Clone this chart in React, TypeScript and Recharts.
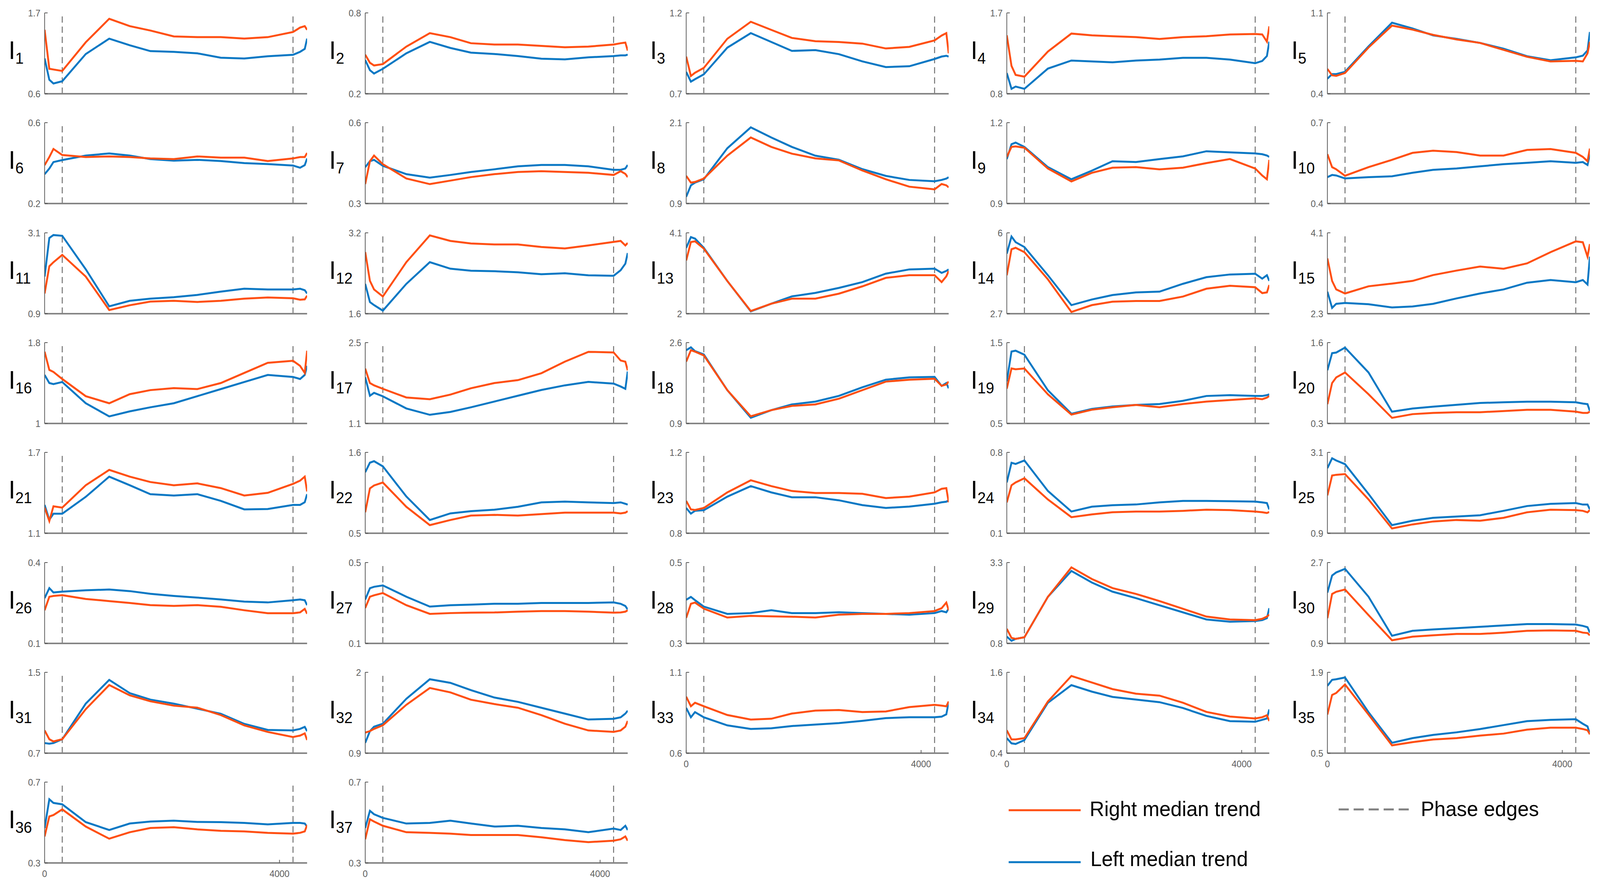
import { useEffect, useState } from 'react'
import { Line, LineChart, ReferenceLine, XAxis, YAxis } from 'recharts'

const SAMPLE_X = [0, 80, 150, 300, 700, 1100, 1450, 1800, 2200, 2600, 3000, 3400, 3800, 4230, 4350, 4430, 4470]
const PHASE_EDGES = [300, 4230]
const X_TICKS = [0, 4000]
const X_MAX = 4470

const Y_MIN = [0.6, 0.2, 0.7, 0.8, 0.4, 0.2, 0.3, 0.9, 0.9, 0.4, 0.9, 1.6, 2, 2.7, 2.3, 1, 1.1, 0.9, 0.5, 0.3, 1.1, 0.5, 0.8, 0.1, 0.9, 0.1, 0.1, 0.3, 0.8, 0.9, 0.7, 0.9, 0.6, 0.4, 0.5, 0.3, 0.3]
const Y_MAX = [1.7, 0.8, 1.2, 1.7, 1.1, 0.6, 0.6, 2.1, 1.2, 0.7, 3.1, 3.2, 4.1, 6, 4.1, 1.8, 2.5, 2.6, 1.5, 1.6, 1.7, 1.6, 1.2, 0.8, 3.1, 0.4, 0.5, 0.5, 3.3, 2.7, 1.5, 2, 1.1, 1.6, 1.9, 0.7, 0.7]

// panels that carry x tick labels
const LABELLED = [33, 34, 35, 36, 37]

const R1 = [1.47, 0.94, 0.93, 0.91, 1.3, 1.62, 1.52, 1.46, 1.38, 1.37, 1.37, 1.35, 1.37, 1.44, 1.5, 1.52, 1.47]
const L1 = [1.08, 0.79, 0.74, 0.77, 1.14, 1.35, 1.26, 1.18, 1.17, 1.15, 1.09, 1.08, 1.11, 1.13, 1.17, 1.21, 1.35]
const R2 = [0.49, 0.43, 0.41, 0.42, 0.55, 0.65, 0.62, 0.575, 0.565, 0.565, 0.555, 0.545, 0.55, 0.565, 0.575, 0.58, 0.52]
const L2 = [0.45, 0.375, 0.35, 0.385, 0.5, 0.585, 0.54, 0.505, 0.495, 0.48, 0.46, 0.455, 0.47, 0.48, 0.485, 0.485, 0.49]
const R3 = [0.93, 0.81, 0.83, 0.86, 1.04, 1.145, 1.095, 1.045, 1.025, 1.02, 1.01, 0.98, 0.99, 1.03, 1.06, 1.075, 0.95]
const L3 = [0.835, 0.775, 0.79, 0.82, 0.985, 1.075, 1.02, 0.965, 0.97, 0.945, 0.9, 0.865, 0.87, 0.915, 0.93, 0.935, 0.93]
const R4 = [1.45, 1.11, 1.01, 0.99, 1.27, 1.47, 1.45, 1.44, 1.43, 1.41, 1.43, 1.44, 1.46, 1.465, 1.46, 1.38, 1.55]
const L4 = [1.03, 0.855, 0.88, 0.855, 1.08, 1.17, 1.16, 1.15, 1.17, 1.18, 1.2, 1.2, 1.18, 1.14, 1.165, 1.22, 1.38]
const R5 = [0.615, 0.56, 0.555, 0.58, 0.8, 0.99, 0.955, 0.91, 0.87, 0.84, 0.78, 0.72, 0.68, 0.685, 0.68, 0.75, 0.85]
const L5 = [0.53, 0.57, 0.57, 0.59, 0.81, 1.015, 0.965, 0.905, 0.875, 0.84, 0.79, 0.725, 0.69, 0.715, 0.73, 0.775, 0.935]
const R6 = [0.39, 0.43, 0.47, 0.44, 0.43, 0.433, 0.43, 0.423, 0.42, 0.433, 0.427, 0.427, 0.41, 0.423, 0.43, 0.43, 0.45]
const L6 = [0.345, 0.373, 0.405, 0.415, 0.437, 0.448, 0.437, 0.42, 0.412, 0.416, 0.41, 0.4, 0.395, 0.388, 0.377, 0.39, 0.423]
const R7 = [0.372, 0.457, 0.478, 0.446, 0.393, 0.372, 0.385, 0.398, 0.409, 0.417, 0.42, 0.417, 0.414, 0.406, 0.42, 0.41, 0.398]
const L7 = [0.435, 0.457, 0.462, 0.44, 0.409, 0.396, 0.406, 0.417, 0.427, 0.438, 0.443, 0.443, 0.438, 0.425, 0.425, 0.43, 0.443]
const R8 = [1.31, 1.21, 1.22, 1.27, 1.61, 1.88, 1.74, 1.64, 1.57, 1.54, 1.39, 1.26, 1.15, 1.11, 1.19, 1.17, 1.14]
const L8 = [1.0, 1.17, 1.21, 1.26, 1.72, 2.03, 1.88, 1.74, 1.61, 1.55, 1.41, 1.31, 1.25, 1.23, 1.25, 1.27, 1.29]
const R9 = [1.073, 1.11, 1.112, 1.107, 1.03, 0.982, 1.014, 1.033, 1.035, 1.027, 1.033, 1.05, 1.065, 1.03, 1.004, 0.99, 1.062]
const L9 = [1.065, 1.12, 1.126, 1.11, 1.035, 0.99, 1.022, 1.057, 1.054, 1.065, 1.075, 1.094, 1.09, 1.086, 1.083, 1.078, 1.073]
const R10 = [0.583, 0.535, 0.527, 0.503, 0.535, 0.562, 0.588, 0.596, 0.591, 0.578, 0.578, 0.599, 0.602, 0.588, 0.573, 0.557, 0.604]
const L10 = [0.498, 0.506, 0.504, 0.493, 0.498, 0.501, 0.514, 0.525, 0.53, 0.538, 0.546, 0.551, 0.557, 0.551, 0.554, 0.543, 0.583]
const R11 = [1.45, 2.19, 2.3, 2.5, 1.91, 1.0, 1.13, 1.23, 1.25, 1.22, 1.25, 1.31, 1.34, 1.32, 1.28, 1.29, 1.39]
const L11 = [1.91, 2.96, 3.04, 3.02, 2.11, 1.1, 1.25, 1.31, 1.35, 1.41, 1.5, 1.58, 1.56, 1.56, 1.58, 1.54, 1.45]
const R12 = [2.82, 2.25, 2.08, 1.94, 2.62, 3.15, 3.04, 2.99, 2.97, 2.97, 2.92, 2.89, 2.95, 3.02, 3.04, 2.95, 3.0]
const L12 = [2.19, 1.83, 1.77, 1.66, 2.19, 2.62, 2.49, 2.45, 2.44, 2.42, 2.38, 2.4, 2.36, 2.35, 2.46, 2.59, 2.8]
const R13 = [3.38, 3.86, 3.88, 3.69, 2.85, 2.07, 2.26, 2.39, 2.39, 2.52, 2.71, 2.93, 3.0, 3.0, 2.82, 2.97, 3.11]
const L13 = [3.71, 3.99, 3.95, 3.71, 2.85, 2.06, 2.26, 2.45, 2.54, 2.67, 2.82, 3.04, 3.15, 3.17, 3.06, 3.11, 3.15]
const R14 = [4.27, 5.33, 5.39, 5.21, 4.1, 2.77, 3.05, 3.19, 3.22, 3.22, 3.4, 3.72, 3.84, 3.78, 3.54, 3.57, 3.87]
const L14 = [5.15, 5.85, 5.62, 5.42, 4.27, 3.05, 3.28, 3.46, 3.57, 3.6, 3.92, 4.19, 4.3, 4.33, 4.13, 4.27, 4.04]
const R15 = [3.53, 3.03, 2.84, 2.75, 2.91, 2.97, 3.03, 3.16, 3.26, 3.35, 3.3, 3.42, 3.67, 3.91, 3.89, 3.57, 3.85]
const L15 = [2.79, 2.43, 2.52, 2.54, 2.51, 2.44, 2.46, 2.52, 2.64, 2.75, 2.84, 2.99, 3.05, 3.0, 3.05, 2.95, 3.57]
const R16 = [1.71, 1.53, 1.51, 1.44, 1.27, 1.2, 1.29, 1.33, 1.35, 1.34, 1.4, 1.5, 1.6, 1.62, 1.57, 1.5, 1.72]
const L16 = [1.48, 1.4, 1.39, 1.41, 1.2, 1.07, 1.12, 1.16, 1.2, 1.27, 1.34, 1.41, 1.48, 1.46, 1.44, 1.48, 1.57]
const R17 = [2.05, 1.8, 1.76, 1.7, 1.55, 1.52, 1.6, 1.71, 1.8, 1.85, 1.97, 2.17, 2.34, 2.33, 2.19, 2.17, 2.02]
const L17 = [1.9, 1.58, 1.63, 1.57, 1.36, 1.25, 1.3, 1.38, 1.48, 1.58, 1.68, 1.76, 1.82, 1.79, 1.74, 1.7, 2.0]
const R18 = [2.2, 2.44, 2.41, 2.33, 1.6, 1.05, 1.18, 1.27, 1.3, 1.42, 1.6, 1.78, 1.82, 1.84, 1.69, 1.72, 1.78]
const L18 = [2.44, 2.5, 2.42, 2.35, 1.6, 1.02, 1.18, 1.3, 1.36, 1.48, 1.66, 1.82, 1.87, 1.88, 1.69, 1.75, 1.64]
const R19 = [0.93, 1.18, 1.17, 1.18, 0.86, 0.61, 0.67, 0.7, 0.73, 0.7, 0.74, 0.77, 0.79, 0.81, 0.8, 0.82, 0.84]
const L19 = [1.02, 1.39, 1.4, 1.35, 0.91, 0.62, 0.68, 0.71, 0.73, 0.74, 0.78, 0.84, 0.85, 0.84, 0.84, 0.85, 0.86]
const R20 = [0.61, 0.95, 1.04, 1.12, 0.77, 0.39, 0.45, 0.47, 0.48, 0.48, 0.5, 0.52, 0.52, 0.49, 0.47, 0.47, 0.49]
const L20 = [1.155, 1.43, 1.44, 1.52, 1.12, 0.49, 0.54, 0.57, 0.6, 0.63, 0.64, 0.65, 0.65, 0.64, 0.62, 0.61, 0.5]
const R21 = [1.29, 1.19, 1.3, 1.29, 1.456, 1.57, 1.52, 1.48, 1.456, 1.47, 1.435, 1.38, 1.4, 1.466, 1.49, 1.52, 1.41]
const L21 = [1.31, 1.2, 1.245, 1.245, 1.37, 1.52, 1.456, 1.39, 1.38, 1.39, 1.34, 1.277, 1.28, 1.31, 1.31, 1.33, 1.39]
const R22 = [0.785, 1.11, 1.15, 1.19, 0.86, 0.61, 0.68, 0.74, 0.75, 0.74, 0.76, 0.78, 0.78, 0.78, 0.77, 0.78, 0.8]
const L22 = [1.33, 1.46, 1.48, 1.41, 1.0, 0.68, 0.77, 0.8, 0.82, 0.86, 0.92, 0.93, 0.92, 0.91, 0.92, 0.9, 0.89]
const R23 = [0.96, 0.918, 0.915, 0.925, 1.002, 1.062, 1.033, 1.009, 0.999, 0.999, 0.995, 0.974, 0.981, 1.002, 1.02, 1.023, 0.953]
const L23 = [0.925, 0.897, 0.911, 0.914, 0.981, 1.033, 1.002, 0.978, 0.978, 0.963, 0.939, 0.925, 0.932, 0.946, 0.953, 0.956, 0.963]
const R24 = [0.367, 0.515, 0.54, 0.576, 0.392, 0.239, 0.263, 0.282, 0.288, 0.288, 0.294, 0.304, 0.3, 0.288, 0.282, 0.275, 0.284]
const L24 = [0.54, 0.71, 0.7, 0.73, 0.466, 0.288, 0.33, 0.343, 0.349, 0.367, 0.38, 0.38, 0.377, 0.374, 0.367, 0.361, 0.306]
const R25 = [1.93, 2.47, 2.49, 2.51, 1.82, 1.03, 1.14, 1.22, 1.26, 1.24, 1.32, 1.47, 1.54, 1.53, 1.51, 1.47, 1.53]
const L25 = [2.67, 2.94, 2.88, 2.78, 1.97, 1.12, 1.24, 1.32, 1.355, 1.39, 1.51, 1.64, 1.7, 1.72, 1.68, 1.68, 1.55]
const R26 = [0.223, 0.273, 0.276, 0.279, 0.265, 0.257, 0.25, 0.242, 0.239, 0.242, 0.236, 0.223, 0.212, 0.212, 0.215, 0.228, 0.21]
const L26 = [0.268, 0.305, 0.289, 0.292, 0.297, 0.3, 0.294, 0.284, 0.276, 0.27, 0.263, 0.255, 0.252, 0.26, 0.263, 0.26, 0.242]
const R27 = [0.275, 0.331, 0.338, 0.349, 0.289, 0.246, 0.25, 0.252, 0.253, 0.257, 0.26, 0.26, 0.257, 0.252, 0.253, 0.257, 0.264]
const L27 = [0.317, 0.373, 0.38, 0.387, 0.331, 0.282, 0.289, 0.292, 0.296, 0.296, 0.3, 0.3, 0.3, 0.303, 0.296, 0.285, 0.268]
const R28 = [0.363, 0.398, 0.401, 0.386, 0.364, 0.368, 0.367, 0.366, 0.364, 0.371, 0.373, 0.373, 0.375, 0.38, 0.387, 0.401, 0.382]
const L28 = [0.408, 0.415, 0.407, 0.391, 0.373, 0.375, 0.382, 0.375, 0.375, 0.377, 0.375, 0.373, 0.371, 0.375, 0.38, 0.377, 0.386]
const R29 = [1.25, 0.97, 0.94, 0.99, 2.24, 3.15, 2.79, 2.51, 2.33, 2.11, 1.87, 1.63, 1.54, 1.52, 1.56, 1.63, 1.69]
const L29 = [1.01, 0.88, 0.94, 0.99, 2.24, 3.04, 2.68, 2.4, 2.2, 1.98, 1.76, 1.54, 1.47, 1.49, 1.52, 1.58, 1.89]
const R30 = [1.46, 2.0, 2.05, 2.1, 1.53, 0.97, 1.05, 1.08, 1.11, 1.11, 1.14, 1.18, 1.19, 1.18, 1.14, 1.13, 1.08]
const L30 = [2.03, 2.41, 2.48, 2.56, 1.94, 1.07, 1.18, 1.21, 1.24, 1.27, 1.3, 1.33, 1.33, 1.32, 1.29, 1.26, 1.14]
const R31 = [0.925, 0.838, 0.816, 0.838, 1.135, 1.374, 1.272, 1.214, 1.17, 1.15, 1.077, 0.975, 0.91, 0.86, 0.874, 0.896, 0.83]
const L31 = [0.8, 0.794, 0.8, 0.838, 1.19, 1.425, 1.294, 1.23, 1.19, 1.14, 1.09, 0.99, 0.93, 0.925, 0.94, 0.96, 0.917]
const R32 = [1.18, 1.2, 1.23, 1.28, 1.558, 1.787, 1.727, 1.627, 1.568, 1.518, 1.418, 1.3, 1.209, 1.19, 1.209, 1.26, 1.339]
const L32 = [1.04, 1.2, 1.26, 1.3, 1.64, 1.906, 1.857, 1.757, 1.657, 1.598, 1.518, 1.438, 1.358, 1.368, 1.388, 1.438, 1.478]
const R33 = [0.949, 0.89, 0.912, 0.89, 0.836, 0.808, 0.813, 0.845, 0.863, 0.867, 0.854, 0.858, 0.885, 0.899, 0.894, 0.89, 0.92]
const L33 = [0.88, 0.822, 0.854, 0.822, 0.772, 0.75, 0.754, 0.768, 0.777, 0.786, 0.8, 0.817, 0.822, 0.822, 0.826, 0.84, 0.917]
const R34 = [0.74, 0.604, 0.604, 0.623, 1.167, 1.546, 1.449, 1.351, 1.283, 1.254, 1.148, 1.012, 0.944, 0.915, 0.934, 0.963, 0.876]
const L34 = [0.623, 0.546, 0.536, 0.594, 1.148, 1.41, 1.313, 1.235, 1.196, 1.157, 1.07, 0.953, 0.876, 0.866, 0.895, 0.915, 1.05]
const R35 = [1.168, 1.508, 1.542, 1.689, 1.168, 0.635, 0.691, 0.737, 0.76, 0.805, 0.839, 0.907, 0.941, 0.941, 0.918, 0.896, 0.827]
const L35 = [1.666, 1.77, 1.78, 1.81, 1.21, 0.68, 0.76, 0.816, 0.861, 0.918, 0.986, 1.054, 1.077, 1.088, 1.009, 0.963, 0.827]
const R36 = [0.431, 0.53, 0.537, 0.565, 0.48, 0.42, 0.452, 0.473, 0.477, 0.466, 0.459, 0.456, 0.449, 0.445, 0.449, 0.456, 0.488]
const L36 = [0.473, 0.615, 0.597, 0.59, 0.502, 0.463, 0.495, 0.505, 0.509, 0.503, 0.502, 0.498, 0.491, 0.498, 0.498, 0.495, 0.48]
const R37 = [0.417, 0.516, 0.505, 0.484, 0.452, 0.449, 0.445, 0.438, 0.438, 0.438, 0.427, 0.413, 0.403, 0.41, 0.417, 0.431, 0.41]
const L37 = [0.473, 0.558, 0.541, 0.523, 0.495, 0.498, 0.509, 0.495, 0.48, 0.484, 0.473, 0.466, 0.452, 0.47, 0.463, 0.484, 0.463]

const RIGHT = [R1, R2, R3, R4, R5, R6, R7, R8, R9, R10, R11, R12, R13, R14, R15, R16, R17, R18, R19, R20, R21, R22, R23, R24, R25, R26, R27, R28, R29, R30, R31, R32, R33, R34, R35, R36, R37]
const LEFT = [L1, L2, L3, L4, L5, L6, L7, L8, L9, L10, L11, L12, L13, L14, L15, L16, L17, L18, L19, L20, L21, L22, L23, L24, L25, L26, L27, L28, L29, L30, L31, L32, L33, L34, L35, L36, L37]

const RED = '#FF4F12'
const BLUE = '#0A78C4'
const FONT = "'Liberation Sans', Arial, sans-serif"

// grid geometry
const PAGE_W = 4267
const PAGE_H = 2268
const COL_X0 = 119
const COL_STEP = 855.3
const ROW_Y0 = 33
const ROW_STEP = 281.3
const PLOT_W = 700
const PLOT_H = 207
const PAD_L = 100
const PAD_T = 20

const Panel = ({ index }: { index: number }) => {
	const col = index % 5
	const row = Math.floor(index / 5)
	const left = COL_X0 + col * COL_STEP - PAD_L
	const top = ROW_Y0 + row * ROW_STEP - PAD_T
	const data = SAMPLE_X.map((x, i) => ({ x, right: RIGHT[index][i], left: LEFT[index][i] }))
	const showX = LABELLED.includes(index + 1)
	const w = PAD_L + PLOT_W + 20
	const h = PAD_T + PLOT_H + 50

	return (
		<div style={{ position: 'absolute', left, top, width: w, height: h }}>
			<LineChart width={w} height={h} data={data} margin={{ top: PAD_T, right: 20, bottom: 10, left: 40 }}>
				<XAxis
					type='number'
					dataKey='x'
					domain={[0, X_MAX]}
					ticks={X_TICKS}
					interval={0}
					allowDataOverflow
					height={40}
					axisLine={{ stroke: '#858585', strokeWidth: 4 }}
					tickLine={{ stroke: '#5a5a5a', strokeWidth: 2 }}
					tickSize={-8}
					tickMargin={27}
					tick={showX ? { fill: '#5e5e5e', fontSize: 24, fontFamily: FONT } : false}
				/>
				<YAxis
					type='number'
					domain={[Y_MIN[index], Y_MAX[index]]}
					ticks={[Y_MIN[index], Y_MAX[index]]}
					interval={0}
					allowDataOverflow
					width={60}
					axisLine={{ stroke: '#5a5a5a', strokeWidth: 2 }}
					tickLine={{ stroke: '#5a5a5a', strokeWidth: 2 }}
					tickSize={-8}
					tickMargin={19}
					tick={{ fill: '#5e5e5e', fontSize: 24, fontFamily: FONT }}
				/>
				{PHASE_EDGES.map((edge) => (
					<ReferenceLine key={edge} x={edge} stroke='#6e6e6e' strokeWidth={2.5} strokeDasharray='16 10' />
				))}
				<Line type='linear' dataKey='left' stroke={BLUE} strokeWidth={5} dot={false} isAnimationActive={false} />
				<Line type='linear' dataKey='right' stroke={RED} strokeWidth={5} dot={false} isAnimationActive={false} />
			</LineChart>
			<svg style={{ position: 'absolute', left: 0, top: 0 }} width={PAD_L} height={h}>
				<text x={4} y={PAD_T + 118} fontFamily={FONT} fontSize={64} fill='#000'>
					I
					<tspan dy={12} fontSize={40}>
						{index + 1}
					</tspan>
				</text>
			</svg>
		</div>
	)
}

const LegendBox = () => (
	<svg style={{ position: 'absolute', left: 2650, top: 2000 }} width={1617} height={268}>
		<line x1={40} x2={232} y1={74} y2={74} stroke={RED} strokeWidth={5} />
		<text x={256} y={89} fontFamily={FONT} fontSize={54} fill='#000'>
			Right median trend
		</text>
		<line x1={920} x2={1109} y1={72} y2={72} stroke='#808080' strokeWidth={5} strokeDasharray='27 13' />
		<text x={1139} y={89} fontFamily={FONT} fontSize={54} fill='#000'>
			Phase edges
		</text>
		<line x1={40} x2={232} y1={207} y2={207} stroke={BLUE} strokeWidth={5} />
		<text x={258} y={217} fontFamily={FONT} fontSize={54} fill='#000'>
			Left median trend
		</text>
	</svg>
)

const readViewport = () => ({
	w: window.innerWidth || PAGE_W,
	h: window.innerHeight || PAGE_H
})

const App = () => {
	const [vp, setVp] = useState(readViewport)
	useEffect(() => {
		const onResize = () => setVp(readViewport())
		window.addEventListener('resize', onResize)
		onResize()
		return () => window.removeEventListener('resize', onResize)
	}, [])
	// the browser clamps the viewport, so fit the fixed 4267x2268 figure into it
	const sx = Math.min(1, vp.w / PAGE_W)
	const sy = Math.min(1, vp.h / PAGE_H)

	return (
		<div
			style={{
				position: 'fixed',
				left: 0,
				top: 0,
				width: PAGE_W,
				height: PAGE_H,
				background: '#fff',
				overflow: 'hidden',
				transformOrigin: '0 0',
				transform: `scale(${sx}, ${sy})`
			}}
		>
			{RIGHT.map((_, i) => (
				<Panel key={`panel-${i}`} index={i} />
			))}
			<LegendBox />
		</div>
	)
}

export default App
